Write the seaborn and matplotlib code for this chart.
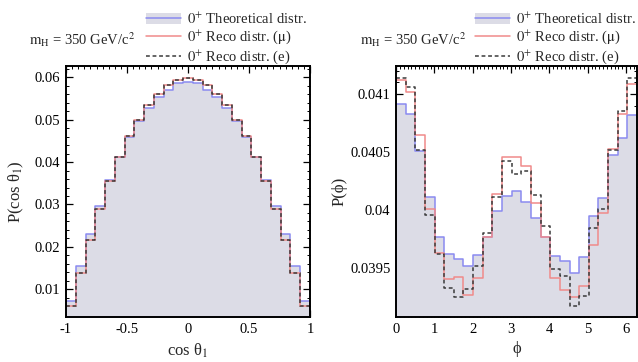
import numpy as np
import pandas as pd
import matplotlib
matplotlib.use("Agg")
import matplotlib.pyplot as plt
from matplotlib.patches import Patch
from matplotlib.lines import Line2D
from matplotlib.ticker import MultipleLocator, FixedLocator
import seaborn as sns

# ---- data: 25-bin normalised distributions ----
cos_edges = np.linspace(-1.0, 1.0, 26)
cos_theo_half = [0.0073, 0.0155, 0.0230, 0.0297, 0.0357, 0.0412, 0.0459, 0.0496,
                 0.0529, 0.0554, 0.0571, 0.0586]
cos_theo_mid = [0.0590]
cos_reco_half = [0.0060, 0.0138, 0.0216, 0.0289, 0.0355, 0.0412, 0.0461, 0.0500,
                 0.0536, 0.0560, 0.0582, 0.0594]
cos_reco_mid = [0.0598]
cos_theo = cos_theo_half + cos_theo_mid + cos_theo_half[::-1]
cos_mu = cos_reco_half + cos_reco_mid + cos_reco_half[::-1]
cos_e = list(cos_mu)

phi_edges = np.linspace(0.0, 2 * np.pi, 26)
phi_theo = [0.04091, 0.04083, 0.04051, 0.04011, 0.03977, 0.03962, 0.03958, 0.03952,
            0.03961, 0.03977, 0.03999, 0.04012, 0.04016, 0.04007, 0.03993, 0.03977,
            0.03960, 0.03956, 0.03946, 0.03959, 0.03995, 0.04010, 0.04047, 0.04062,
            0.04082]
phi_mu = [0.04112, 0.04102, 0.04065, 0.04001, 0.03963, 0.03940, 0.03942, 0.03927,
          0.03941, 0.03977, 0.04014, 0.04046, 0.04046, 0.04038, 0.04006, 0.03977,
          0.03941, 0.03931, 0.03925, 0.03934, 0.03970, 0.03997, 0.04053, 0.04083,
          0.04109]
phi_e = [0.04114, 0.04106, 0.04052, 0.03996, 0.03962, 0.03933, 0.03925, 0.03932,
         0.03952, 0.03980, 0.04011, 0.04042, 0.04031, 0.04034, 0.04013, 0.03986,
         0.03949, 0.03943, 0.03917, 0.03926, 0.03984, 0.04001, 0.04052, 0.04085,
         0.04114]

legend_labels = [r"$0^{+}$ Theoretical distr.",
                 r"$0^{+}$ Reco distr. ($\mathrm{\mu}$)",
                 r"$0^{+}$ Reco distr. (e)"]
mass_label = r"$\mathrm{m_H}$ = 350 GeV/c$^{2}$"

FILL = "#dcdce6"
BLUE = "#8a8af0"
RED = "#f08a8a"
DARK = "#3a3a3a"

sns.set_theme(style="ticks")
plt.rcParams["font.family"] = ["Liberation Serif", "DejaVu Serif"]
plt.rcParams["mathtext.fontset"] = "stix"
plt.rcParams["font.size"] = 10.5

fig = plt.figure(figsize=(6.38, 3.62), dpi=100)
ax1 = fig.add_axes([66 / 638, 1 - 317 / 362, 244 / 638, 251 / 362])
ax2 = fig.add_axes([396 / 638, 1 - 317 / 362, 241 / 638, 251 / 362])


def draw_panel(ax, edges, theo, mu, e):
    edges = [float(v) for v in edges]
    centers = [0.5 * (a + b) for a, b in zip(edges[:-1], edges[1:])]
    df = pd.DataFrame({"x": centers, "theo": theo, "mu": mu, "e": e})
    sns.histplot(data=df, x="x", weights="theo", bins=edges, element="step",
                 fill=True, color=FILL, alpha=1.0, linewidth=0, ax=ax)
    sns.histplot(data=df, x="x", weights="theo", bins=edges, element="step",
                 fill=False, color=BLUE, linewidth=1.1, ax=ax)
    sns.histplot(data=df, x="x", weights="mu", bins=edges, element="step",
                 fill=False, color=RED, linewidth=1.1, ax=ax)
    sns.histplot(data=df, x="x", weights="e", bins=edges, element="step",
                 fill=False, color=DARK, linewidth=1.1, linestyle=(0, (2.5, 1.8)),
                 ax=ax)
    ax.set_xlim(edges[0], edges[-1])
    for s in ax.spines.values():
        s.set_linewidth(1.4)
        s.set_color("black")
    ax.tick_params(which="both", direction="in", top=True, right=True,
                   colors="black", labelsize=10.5, pad=4)
    ax.tick_params(which="major", length=5, width=0.9)
    ax.tick_params(which="minor", length=2.5, width=0.7)


draw_panel(ax1, cos_edges, cos_theo, cos_mu, cos_e)
ax1.set_ylim(0.00343, 0.0627)
ax1.xaxis.set_major_locator(FixedLocator([-1, -0.5, 0, 0.5, 1]))
ax1.set_xticklabels(["-1", "-0.5", "0", "0.5", "1"])
ax1.xaxis.set_minor_locator(MultipleLocator(0.05))
ax1.yaxis.set_major_locator(FixedLocator([0.01, 0.02, 0.03, 0.04, 0.05, 0.06]))
ax1.set_yticklabels(["0.01", "0.02", "0.03", "0.04", "0.05", "0.06"])
ax1.yaxis.set_minor_locator(MultipleLocator(0.002))
ax1.set_xlabel(r"cos θ$_{1}$", fontsize=12, labelpad=4)
ax1.set_ylabel(r"P(cos θ$_{1}$)", fontsize=12, labelpad=6)

draw_panel(ax2, phi_edges, phi_theo, phi_mu, phi_e)
ax2.set_ylim(0.039076, 0.041242)
ax2.xaxis.set_major_locator(FixedLocator([0, 1, 2, 3, 4, 5, 6]))
ax2.set_xticklabels(["0", "1", "2", "3", "4", "5", "6"])
ax2.xaxis.set_minor_locator(MultipleLocator(0.1))
ax2.yaxis.set_major_locator(FixedLocator([0.0395, 0.04, 0.0405, 0.041]))
ax2.set_yticklabels(["0.0395", "0.04", "0.0405", "0.041"])
ax2.yaxis.set_minor_locator(MultipleLocator(0.0001))
ax2.set_xlabel("ϕ", fontsize=12, labelpad=4)
ax2.set_ylabel("P(ϕ)", fontsize=12, labelpad=2)

for ax in (ax1, ax2):
    h_theo = (Patch(facecolor=FILL, edgecolor="none"),
              Line2D([], [], color=BLUE, linewidth=1.1))
    h_mu = Line2D([], [], color=RED, linewidth=1.1)
    h_e = Line2D([], [], color=DARK, linewidth=1.1, linestyle=(0, (2.5, 1.8)))
    ax.legend([h_theo, h_mu, h_e], legend_labels, loc="lower left",
              bbox_to_anchor=(0.31, 0.982), frameon=False, fontsize=10.5,
              handlelength=2.4, handletextpad=0.4, labelspacing=0.15,
              borderaxespad=0.1, borderpad=0.2)
    ax.text(-0.15, 1.103, mass_label, transform=ax.transAxes, fontsize=10.5,
            ha="left", va="center")

fig.savefig("out.png", dpi=100)
